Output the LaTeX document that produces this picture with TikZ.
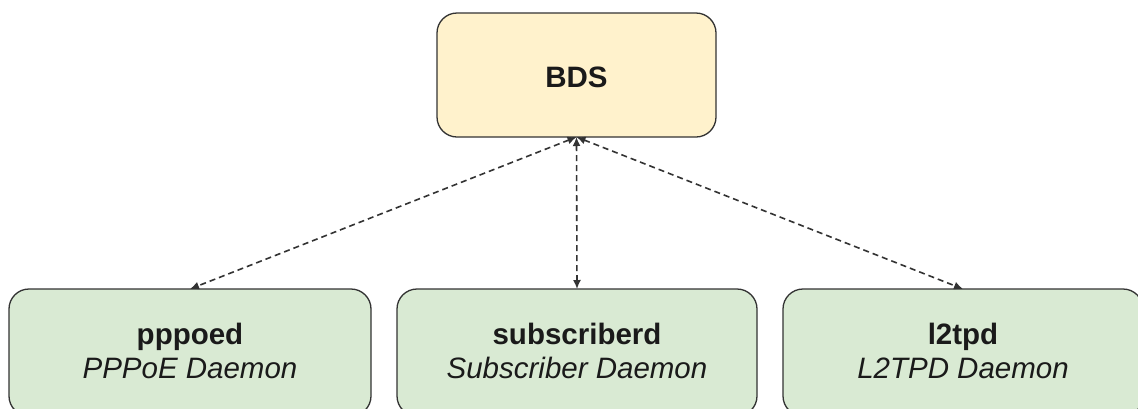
\documentclass[tikz,border=0pt]{standalone}
\usepackage{fontspec}
\setmainfont{Liberation Sans}
\usetikzlibrary{arrows.meta}
\definecolor{yel}{HTML}{FFF2CC}
\definecolor{grn}{HTML}{D9EAD3}
\definecolor{edgec}{HTML}{333333}
\definecolor{txt}{HTML}{1A1A1A}
\tikzset{
  box/.style={draw=edgec, line width=1.3pt, rounded corners=20pt, inner sep=0pt, outer sep=0pt},
  topbox/.style={box, fill=yel, minimum width=279pt, minimum height=124pt},
  botbox/.style={box, fill=grn, minimum width=360pt, minimum height=127pt},
  title/.style={anchor=base, inner sep=0pt, text=txt, font=\fontsize{29.5}{34}\selectfont\bfseries},
  sub/.style={anchor=base, inner sep=0pt, text=txt, font=\fontsize{29.5}{34}\selectfont\itshape},
  link/.style={draw=edgec, line width=1.6pt, dash pattern=on 6pt off 4pt, {Latex[length=9pt,width=8pt]}-{Latex[length=9pt,width=8pt]}}
}
\begin{document}
\begin{tikzpicture}[x=1pt,y=-1pt]
\useasboundingbox (0,0) rectangle (1138,408);
\clip (0,0) rectangle (1138,408);
\fill[white] (0,0) rectangle (1138,408);
\node[topbox] (bds) at (576.5,75) {};
\node[title] (bdst) at (576.5,87) {BDS};

\node[botbox, minimum width=362pt] (pp) at (190,352.5) {};
\node[title] (ppt) at (190,344) {pppoed};
\node[sub] (pps) at (190,378) {PPPoE Daemon};

\node[botbox] (sb) at (577,352.5) {};
\node[title] (sbt) at (577,344) {subscriberd};
\node[sub] (sbs) at (577,378) {Subscriber Daemon};

\node[botbox] (l2) at (963,352.5) {};
\node[title] (l2t) at (963,344) {l2tpd};
\node[sub] (l2s) at (963,378) {L2TPD Daemon};

\draw[link] (bds.south) -- (pp.north);
\draw[link] (bds.south) -- (sb.north);
\draw[link] (bds.south) -- (l2.north);
\end{tikzpicture}
\end{document}
